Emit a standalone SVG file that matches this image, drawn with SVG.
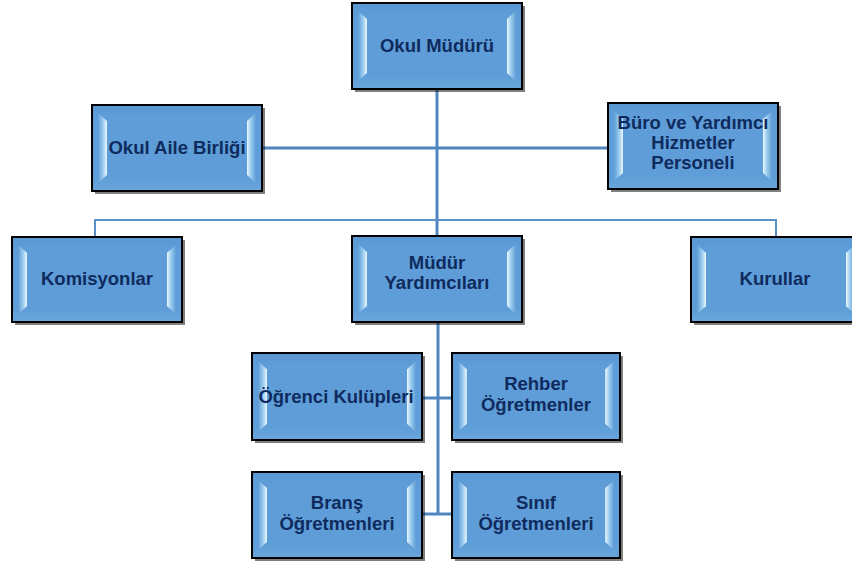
<svg xmlns="http://www.w3.org/2000/svg" xmlns:xlink="http://www.w3.org/1999/xlink" width="852" height="562" viewBox="0 0 852 562">
<style>
.t{font-family:"Liberation Sans",Arial,sans-serif;font-weight:bold;font-size:18.5px;fill:#0f2b5e;text-anchor:middle}
.c{fill:none;stroke:#4f86c0;stroke-width:3}
.c2{fill:none;stroke:#5a8fc8;stroke-width:2}
</style>
<defs>
<linearGradient id="gl" x1="0" y1="0" x2="1" y2="0">
<stop offset="0" stop-color="#5e9dd6"/><stop offset="0.55" stop-color="#9acbef"/><stop offset="1" stop-color="#eaf8fe"/>
</linearGradient>
<linearGradient id="gr" x1="0" y1="0" x2="1" y2="0">
<stop offset="0" stop-color="#eaf8fe"/><stop offset="0.45" stop-color="#9acbef"/><stop offset="1" stop-color="#5e9dd6"/>
</linearGradient>
<linearGradient id="gf" x1="0" y1="0" x2="0" y2="1">
<stop offset="0" stop-color="#5a98d3"/><stop offset="0.15" stop-color="#5e9dd7"/><stop offset="0.85" stop-color="#5e9dd7"/><stop offset="1" stop-color="#6aa6dc"/>
</linearGradient>
<symbol id="box" viewBox="0 0 170 86" preserveAspectRatio="none" overflow="visible">
<rect x="3" y="3" width="170" height="86" fill="#000" opacity="0.5"/>
<rect x="0" y="0" width="170" height="86" fill="url(#gf)"/>
<polygon points="6,8 15,16 15,70 6,78" fill="url(#gl)"/>
<polygon points="164,8 155,16 155,70 164,78" fill="url(#gr)"/>
<rect x="0" y="0" width="170" height="86" fill="none" stroke="#000" stroke-width="2"/>
</symbol>
</defs>
<rect width="852" height="562" fill="#fff"/>
<g id="connectors">
<line class="c" x1="437" y1="88" x2="437" y2="236"/>
<line class="c" x1="263" y1="148" x2="608" y2="148"/>
<polyline class="c2" points="95,237 95,220 776,220 776,237"/>
<line class="c" x1="438" y1="322" x2="438" y2="514"/>
<line class="c" x1="422" y1="398" x2="452" y2="398"/>
<line class="c" x1="422" y1="514" x2="452" y2="514"/>
</g>
<g id="okul-muduru"><use xlink:href="#box" x="352" y="3" width="170" height="86"/><text class="t" x="437" y="52">Okul Müdürü</text></g>
<g id="okul-aile-birligi"><use xlink:href="#box" x="92" y="105" width="170" height="86"/><text class="t" x="177" y="154">Okul Aile Birliği</text></g>
<g id="buro"><use xlink:href="#box" x="608" y="103" width="170" height="86"/><text class="t" x="693" y="129">Büro ve Yardımcı</text><text class="t" x="693" y="149">Hizmetler</text><text class="t" x="693" y="169">Personeli</text></g>
<g id="komisyonlar"><use xlink:href="#box" x="12" y="237" width="170" height="85"/><text class="t" x="97" y="285">Komisyonlar</text></g>
<g id="mudur-yardimcilari"><use xlink:href="#box" x="352" y="236" width="170" height="86"/><text class="t" x="437" y="269">Müdür</text><text class="t" x="437" y="289">Yardımcıları</text></g>
<g id="kurullar"><use xlink:href="#box" x="691" y="237" width="170" height="85"/><text class="t" x="775" y="285">Kurullar</text></g>
<g id="ogrenci-kulupleri"><use xlink:href="#box" x="252" y="353" width="170" height="87"/><text class="t" x="336" y="403">Öğrenci Kulüpleri</text></g>
<g id="rehber"><use xlink:href="#box" x="452" y="353" width="168" height="87"/><text class="t" x="536" y="390">Rehber</text><text class="t" x="536" y="411">Öğretmenler</text></g>
<g id="brans"><use xlink:href="#box" x="252" y="472" width="170" height="86"/><text class="t" x="337" y="509">Branş</text><text class="t" x="337" y="530">Öğretmenleri</text></g>
<g id="sinif"><use xlink:href="#box" x="452" y="472" width="168" height="86"/><text class="t" x="536" y="509">Sınıf</text><text class="t" x="536" y="530">Öğretmenleri</text></g>
</svg>
